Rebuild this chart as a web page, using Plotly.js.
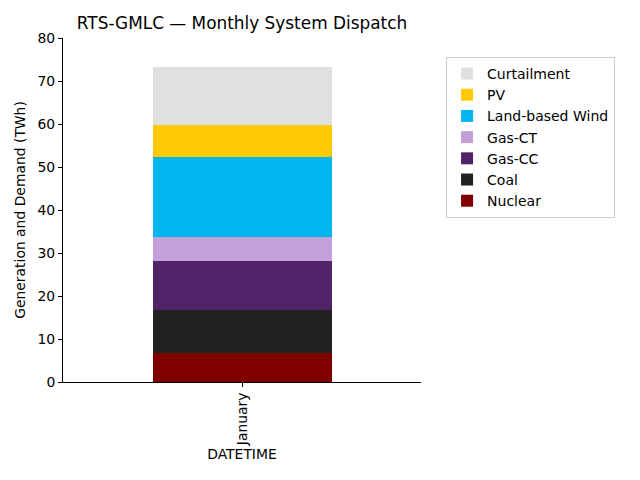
<!DOCTYPE html>
<html>
<head>
<meta charset="utf-8">
<script src="https://cdn.plot.ly/plotly-3.0.1.min.js"></script>
<style>html,body{margin:0;padding:0;background:#fff;}#chart{width:640px;height:480px;}</style>
</head>
<body>
<div id="chart"></div>
<script>
const categories = ["January"];
const seriesNames = ["Nuclear", "Coal", "Gas-CC", "Gas-CT", "Land-based Wind", "PV", "Curtailment"];
const nuclear = [6.7];
const coal = [10.1];
const gasCC = [11.4];
const gasCT = [5.6];
const wind = [18.5];
const pv = [7.4];
const curtailment = [13.5];
const seriesColors = ["#800000", "#222222", "#512268", "#c3a0da", "#00b6ef", "#ffc903", "#e0e0e0"];

const seriesValues = [nuclear, coal, gasCC, gasCT, wind, pv, curtailment];
const traces = seriesNames.map((name, i) => ({
  type: "bar",
  name: name,
  x: categories,
  y: seriesValues[i],
  marker: {color: seriesColors[i], line: {width: 0}},
  hoverinfo: "name+y"
}));

const font = {family: "DejaVu Sans, sans-serif", size: 13.9, color: "#000"};
const layout = {
  width: 640, height: 480,
  barmode: "stack",
  bargap: 0.5,
  paper_bgcolor: "#fff", plot_bgcolor: "#fff",
  font: font,
  margin: {l: 63, r: 219, t: 38, b: 98, pad: 0},
  title: {text: "RTS-GMLC — Monthly System Dispatch", font: {family: "DejaVu Sans, sans-serif", size: 16.9, color: "#000"}, x: 0.5, xref: "paper", xanchor: "center", y: 1, yref: "paper", yanchor: "bottom", pad: {b: 9}},
  xaxis: {
    type: "category", range: [-0.5, 0.5],
    showline: true, linecolor: "#000", linewidth: 1,
    ticks: "outside", ticklen: 4, tickcolor: "#000",
    tickangle: -90, showgrid: false, zeroline: false,
    title: {text: "DATETIME", font: font, standoff: 4}
  },
  yaxis: {
    range: [0, 80], dtick: 10, tick0: 0,
    showline: true, linecolor: "#000", linewidth: 1,
    ticks: "outside", ticklen: 4, tickcolor: "#000",
    showgrid: false, zeroline: false,
    title: {text: "Generation and Demand (TWh)", font: font, standoff: 8}
  },
  legend: {
    x: 1.07, xanchor: "left", y: 0.945, yanchor: "top",
    traceorder: "reversed",
    bordercolor: "#cccccc", borderwidth: 1, bgcolor: "#fff",
    font: {family: "DejaVu Sans, sans-serif", size: 14, color: "#000"}, itemwidth: 30, tracegroupgap: 0
  },
  showlegend: true
};

Plotly.newPlot("chart", traces, layout, {displayModeBar: false, staticPlot: true});
</script>
</body>
</html>
